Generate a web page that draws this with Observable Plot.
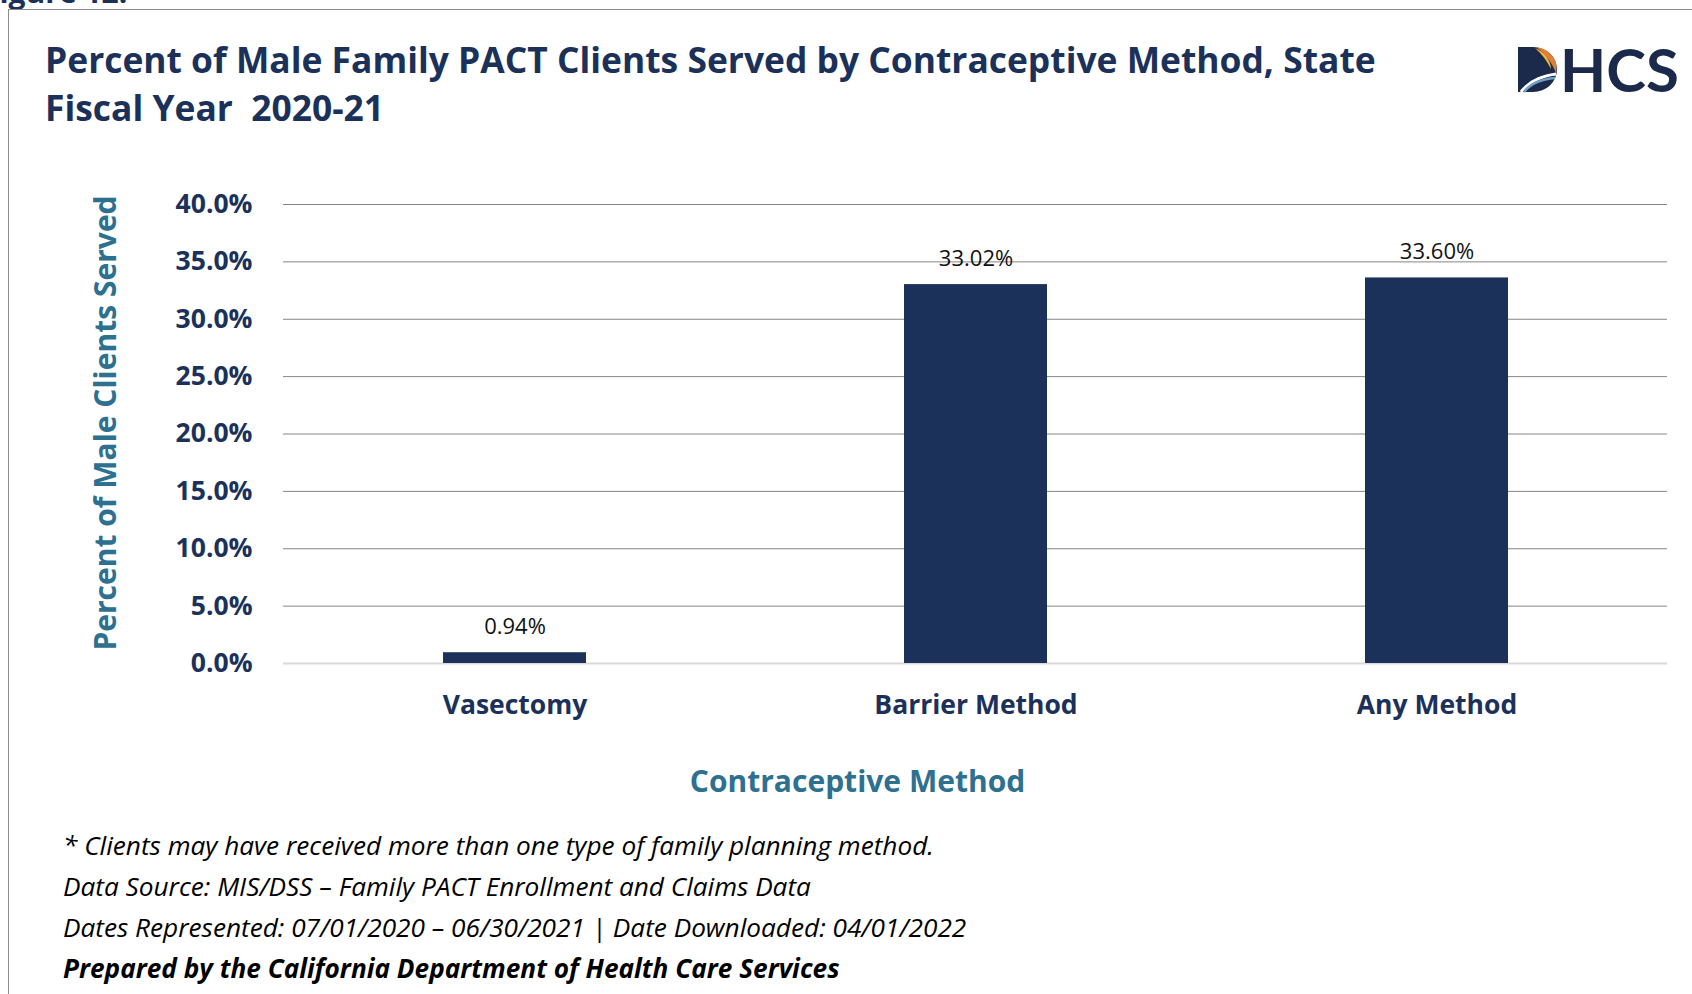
<!DOCTYPE html>
<html>
<head>
<meta charset="utf-8">
<script src="https://cdn.jsdelivr.net/npm/d3@7"></script>
<script src="https://cdn.jsdelivr.net/npm/@observablehq/plot@0.6"></script>
<style>
  html, body { margin: 0; padding: 0; background: #fff; }
  #page { position: relative; width: 1692px; height: 994px; overflow: hidden; background: #fff; font-family: "Open Sans", sans-serif; }
  #frame { position: absolute; left: 8px; top: 9px; width: 1800px; height: 1100px; border-left: 1.5px solid #8c8c8c; border-top: 1.5px solid #8c8c8c; }
  #fig { position: absolute; left: -17px; top: -28px; font-weight: 700; font-size: 30px; line-height: 40px; color: #1b3159; white-space: nowrap; }
  #title { position: absolute; left: 45px; top: 35px; width: 1440px; font-weight: 700; font-size: 35.4px; line-height: 48px; color: #1b3159; white-space: pre; }
  #logo { position: absolute; left: 1500px; top: 40px; }
  #chart { position: absolute; left: 0; top: 170px; }
  #notes { position: absolute; left: 63px; top: 825px; font-style: italic; font-size: 26.2px; line-height: 41px; color: #000; white-space: nowrap; }
  #notes b { font-weight: 700; }
</style>
</head>
<body>
<div id="page">
  <div id="fig">Figure 12.</div>
  <div id="frame"></div>
  <div id="title">Percent of Male Family PACT Clients Served by Contraceptive Method, State
Fiscal Year  2020-21</div>
  <svg id="logo" width="192" height="60" viewBox="0 0 192 60">
    <path d="M18,7 H33 A24,22.5 0 0 1 33,52 H18 Z" fill="#1b2a4a"/>
    <path d="M36,7 C50,9 59,20 56,33 C52,23 46,14 36,7 Z" fill="#e07f35"/>
    <path d="M35,8 C45,12 51,21 51,29 C47,21 42,14 35,8 Z" fill="#f3b43a"/>
    <path d="M21,52 C29,41 41,36 56,34" fill="none" stroke="#ffffff" stroke-width="3"/>
    <path d="M24,52 C31,43 43,39 55,38" fill="none" stroke="#6f9fc6" stroke-width="2.5"/>
    <text x="60" y="51.7" font-family="Lato" font-weight="700" font-size="60" fill="#1b2a4a">HCS</text>
  </svg>
  <div id="chart"></div>
  <div id="notes">* Clients may have received more than one type of family planning method.<br>Data Source: MIS/DSS – Family PACT Enrollment and Claims Data<br>Dates Represented: 07/01/2020 – 06/30/2021 | Date Downloaded: 04/01/2022<br><b>Prepared by the California Department of Health Care Services</b></div>
</div>
<script>
const methods = ["Vasectomy", "Barrier Method", "Any Method"];
const percents = [0.94, 33.02, 33.60];
const yTicks = [0, 5, 10, 15, 20, 25, 30, 35, 40];
const yLabel = "Percent of Male Clients Served";
const xLabel = "Contraceptive Method";

const data = methods.map((m, i) => ({method: m, pct: percents[i]}));
const navy = "#1b3159";
const teal = "#2e7090";

const chart = Plot.plot({
  width: 1692,
  height: 640,
  marginLeft: 283,
  marginRight: 25,
  marginTop: 34,
  marginBottom: 147,
  style: {fontFamily: "'Open Sans', sans-serif", background: "transparent", overflow: "visible"},
  x: {domain: methods, paddingInner: 0.69, paddingOuter: 0.345, axis: null},
  y: {domain: [0, 40], axis: null},
  marks: [
    Plot.gridY(yTicks.filter(t => t > 0), {stroke: "#858585", strokeOpacity: 1, strokeWidth: 1}),
    Plot.ruleY([0], {stroke: "#d9d9d9", strokeWidth: 2}),
    Plot.barY(data, {x: "method", y: "pct", fill: navy}),
    Plot.text(data, {x: "method", y: "pct", text: d => d.pct.toFixed(2) + "%", dy: -26, fontSize: 22, fill: "#111"}),
    Plot.axisY(yTicks, {tickSize: 0, tickPadding: 31, tickFormat: d => d.toFixed(1) + "%", fontSize: 26.5, fontWeight: 700, fill: navy, label: null}),
    Plot.axisX({tickSize: 0, tickPadding: 32, fontSize: 26.5, fontWeight: 700, fill: navy, label: null}),
    Plot.text([yLabel], {text: d => d, frameAnchor: "left", textAnchor: "middle", rotate: -90, dx: -177, dy: -11, fontSize: 30, fontWeight: 700, fill: teal}),
    Plot.text([xLabel], {text: d => d, frameAnchor: "bottom", dx: -118, dy: 128, fontSize: 30, fontWeight: 700, fill: teal})
  ]
});
document.getElementById("chart").appendChild(chart);
</script>
</body>
</html>
